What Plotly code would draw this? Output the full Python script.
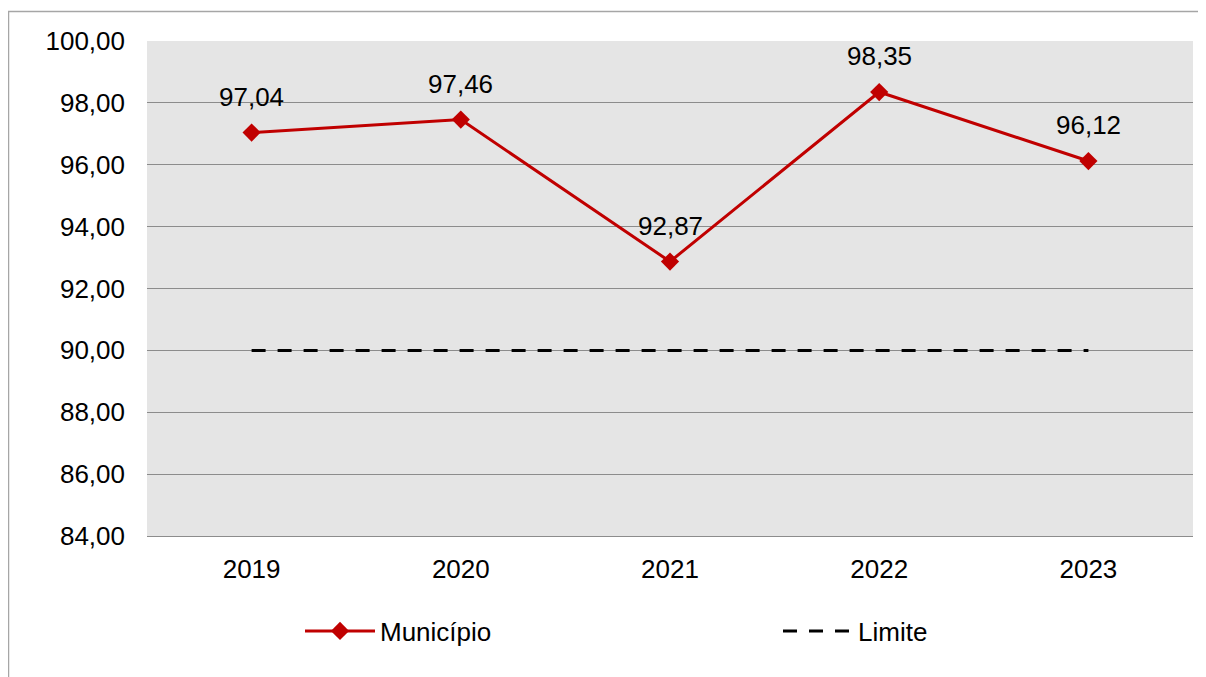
import plotly.graph_objects as go

years = ["2019", "2020", "2021", "2022", "2023"]
municipio = [97.04, 97.46, 92.87, 98.35, 96.12]
limite = [90, 90, 90, 90, 90]
y_ticks = [84, 86, 88, 90, 92, 94, 96, 98, 100]

FONT = "Liberation Sans, Arial, sans-serif"
OFF = 8  # page body margin
W, H = 1206 - OFF, 677 - OFF
L, R, T, B = 147 - OFF, 13, 41 - OFF, 141
pw, ph = W - L - R, H - T - B


def px_x(p):  # screen pixel -> paper x
    return (p - 147) / pw


def px_y(p):  # screen pixel -> paper y
    return (536 - p) / ph


fig = go.Figure()
fig.add_trace(go.Scatter(
    x=years, y=municipio, name="Município", mode="lines+markers",
    line=dict(color="#C00000", width=3),
    marker=dict(symbol="diamond", size=14, color="#C00000"),
    legend="legend",
))
fig.add_trace(go.Scatter(
    x=years, y=limite, name="Limite", mode="lines",
    line=dict(color="#000000", width=3, dash="14px,12px"),
    legend="legend2",
))

annotations = []
for i, v in enumerate(municipio):
    annotations.append(dict(
        x=i, y=v, xref="x", yref="y",
        text=f"{v:.2f}".replace(".", ","),
        showarrow=False, yshift=36, xanchor="center", yanchor="middle",
        font=dict(family=FONT, size=26, color="#000000"),
    ))

leg_common = dict(orientation="h", xanchor="left", yanchor="middle",
                  y=px_y(631), itemwidth=70,
                  font=dict(family=FONT, size=26, color="#000000"),
                  bgcolor="rgba(0,0,0,0)")

fig.update_layout(
    width=W, height=H,
    margin=dict(l=L, r=R, t=T, b=B),
    paper_bgcolor="white", plot_bgcolor="#E5E5E5",
    separators=",.",
    font=dict(family=FONT, size=26, color="#000000"),
    showlegend=True,
    annotations=annotations,
    shapes=[dict(type="rect", xref="paper", yref="paper",
                 x0=px_x(8.5), x1=1.5, y0=-1.0, y1=px_y(11.5),
                 line=dict(color="#A6A6A6", width=1.5),
                 fillcolor="rgba(0,0,0,0)", layer="below")],
    legend=dict(x=px_x(300), **leg_common),
    legend2=dict(x=px_x(778), **leg_common),
    xaxis=dict(type="category", range=[-0.5, 4.5], showgrid=False, zeroline=False,
               showline=True, linecolor="#8C8C8C", linewidth=1,
               ticks="", ticklabelstandoff=10,
               tickfont=dict(family=FONT, size=26)),
    yaxis=dict(range=[84, 100], tickvals=y_ticks, tickformat=".2f",
               showgrid=True, gridcolor="#8C8C8C", gridwidth=1,
               zeroline=False, showline=False, ticks="",
               ticklabelstandoff=21,
               tickfont=dict(family=FONT, size=26)),
)

fig.write_html("out.html")
